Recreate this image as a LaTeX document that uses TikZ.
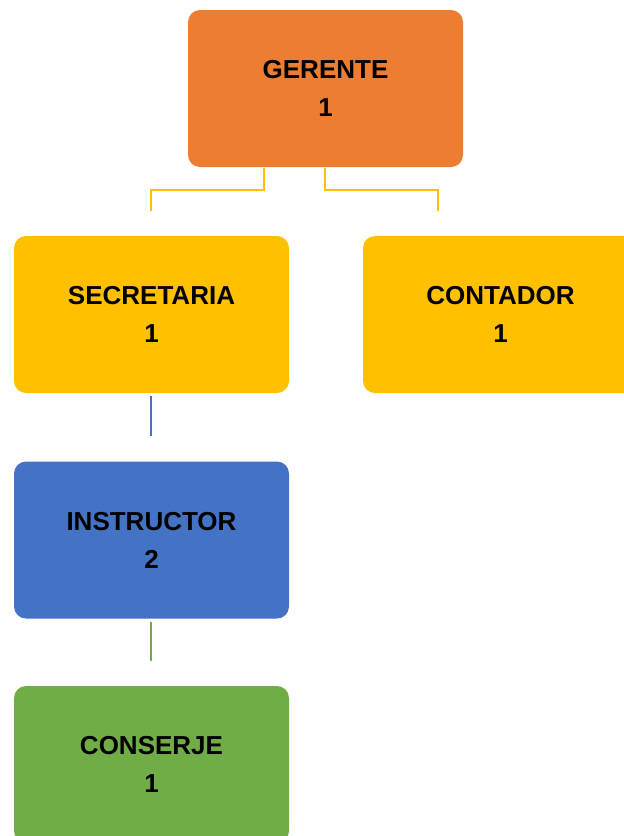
\documentclass[tikz,border=0pt]{standalone}
\usepackage{fontspec}
\setmainfont{Liberation Sans}
\usetikzlibrary{positioning}
\definecolor{naranja}{HTML}{ED7D31}
\definecolor{amarillo}{HTML}{FFC000}
\definecolor{azul}{HTML}{4472C4}
\definecolor{verde}{HTML}{70AD47}
\tikzstyle{caja}=[rectangle, rounded corners=12pt, minimum width=275pt, minimum height=157pt, inner sep=0pt, align=center]
\tikzstyle{every node}=[font=\fontsize{26}{38}\selectfont\bfseries]
\tikzstyle{linea}=[line width=1.5pt]

\begin{document}
\begin{tikzpicture}[x=1pt,y=-1pt]
            \useasboundingbox (0,0) rectangle (624,836);
            \clip (0,0) rectangle (624,836);
            \node[caja, fill=naranja] (gerente) at (325.5,88.5) {GERENTE\\1};
            \node[caja, fill=amarillo] (secretaria) at (151.5,314.5) {SECRETARIA\\1};
            \node[caja, fill=amarillo] (contador) at (500.5,314.5) {CONTADOR\\1};
            \node[caja, fill=azul] (instructor) at (151.5,540) {INSTRUCTOR\\2};
            \node[caja, fill=verde] (conserje) at (151.5,764.5) {CONSERJE\\1};
            \coordinate (codoIzq) at (264,190);
            \coordinate (codoDer) at (325,190);
            \coordinate (finSec) at (151,211);
            \coordinate (finCont) at (438,211);
            \coordinate (finInst) at (151,436);
            \coordinate (finCons) at (151,661);
            \draw[linea, amarillo] ([yshift=-1pt]gerente.south -| codoIzq) -- (codoIzq) -| (finSec);
            \draw[linea, amarillo] ([yshift=-1pt]gerente.south -| codoDer) -- (codoDer) -| (finCont);
            \draw[linea, azul] ([yshift=-3pt]secretaria.south -| finInst) -- (finInst);
            \draw[linea, verde] ([yshift=-3pt]instructor.south -| finCons) -- (finCons);
        \end{tikzpicture}
\end{document}
